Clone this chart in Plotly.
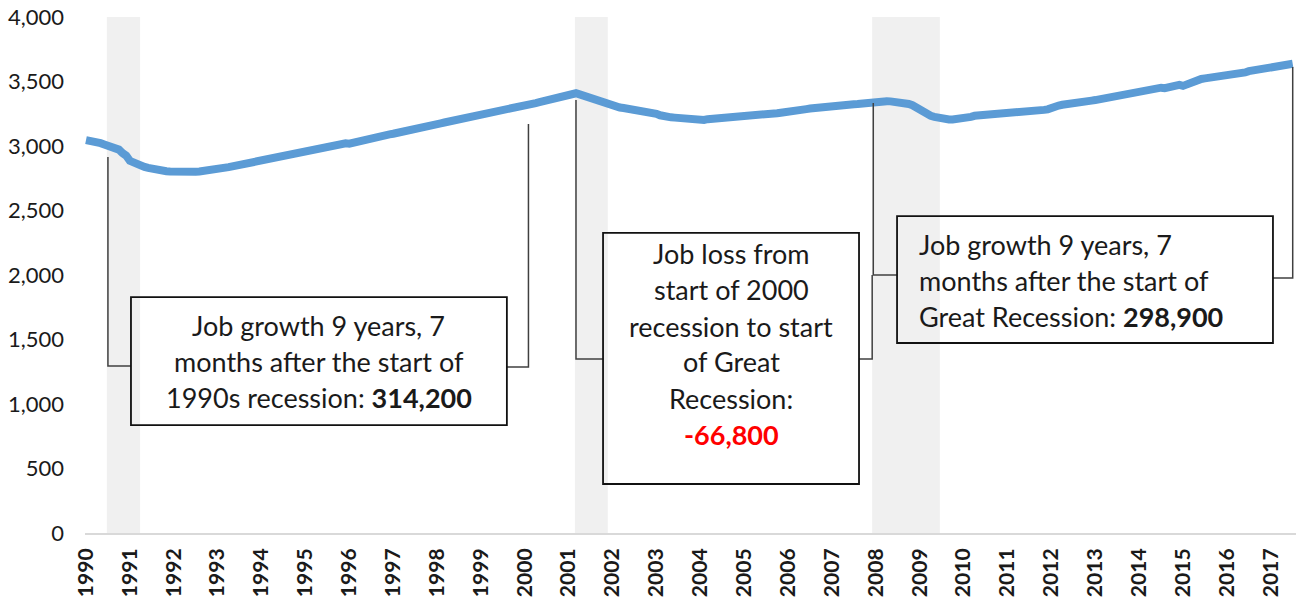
import plotly.graph_objects as go

# Monthly employment (thousands), Jan 1990 - Jul 2017
y1990 = [3045, 3043, 3038, 3030, 3022, 3012, 3005, 2995, 2985, 2972, 2945, 2925]
y1991 = [2885, 2870, 2858, 2848, 2838, 2830, 2822, 2817, 2812, 2808, 2805, 2803]
y1992 = [2801, 2799, 2798, 2798, 2799, 2800, 2801, 2803, 2806, 2808, 2810, 2813]
y1993 = [2818, 2822, 2820, 2836, 2842, 2848, 2852, 2856, 2860, 2866, 2870, 2876]
y1994 = [2880, 2885, 2892, 2900, 2908, 2915, 2922, 2930, 2938, 2946, 2952, 2958]
y1995 = [2962, 2966, 2972, 2976, 2982, 2988, 2992, 2998, 3004, 3010, 3015, 3021]
y1996 = [3018, 3026, 3034, 3042, 3050, 3056, 3062, 3068, 3074, 3080, 3086, 3090]
y1997 = [3095, 3100, 3106, 3110, 3115, 3120, 3126, 3134, 3142, 3150, 3158, 3165]
y1998 = [3170, 3176, 3182, 3188, 3192, 3196, 3200, 3204, 3208, 3212, 3218, 3224]
y1999 = [3228, 3234, 3240, 3246, 3254, 3262, 3270, 3276, 3284, 3290, 3296, 3302]
y2000 = [3312, 3319, 3326, 3333, 3340, 3346, 3352, 3358, 3364, 3372, 3380, 3390]
y2001 = [3398, 3406, 3409, 3400, 3390, 3380, 3370, 3360, 3350, 3338, 3326, 3316]
y2002 = [3308, 3302, 3298, 3294, 3290, 3286, 3283, 3280, 3276, 3272, 3266, 3260]
y2003 = [3250, 3238, 3228, 3224, 3222, 3220, 3218, 3216, 3212, 3208, 3204, 3200]
y2004 = [3196, 3202, 3208, 3210, 3212, 3214, 3216, 3218, 3219, 3220, 3222, 3224]
y2005 = [3226, 3228, 3226, 3230, 3234, 3238, 3242, 3246, 3250, 3254, 3258, 3264]
y2006 = [3266, 3270, 3274, 3278, 3282, 3286, 3290, 3294, 3296, 3300, 3302, 3305]
y2007 = [3306, 3308, 3312, 3314, 3318, 3320, 3324, 3326, 3330, 3334, 3338, 3342]
y2008 = [3344, 3346, 3347, 3347, 3346, 3344, 3342, 3338, 3334, 3326, 3316, 3298]
y2009 = [3270, 3256, 3244, 3234, 3226, 3218, 3212, 3208, 3206, 3206, 3207, 3210]
y2010 = [3214, 3218, 3226, 3234, 3236, 3232, 3236, 3238, 3240, 3242, 3244, 3246]
y2011 = [3248, 3250, 3252, 3254, 3258, 3262, 3258, 3268, 3272, 3276, 3280, 3284]
y2012 = [3298, 3306, 3314, 3320, 3326, 3320, 3330, 3334, 3338, 3342, 3346, 3352]
y2013 = [3356, 3362, 3368, 3372, 3378, 3382, 3386, 3390, 3394, 3398, 3404, 3410]
y2014 = [3416, 3422, 3428, 3434, 3440, 3446, 3452, 3448, 3456, 3464, 3470, 3474]
y2015 = [3466, 3480, 3494, 3506, 3514, 3520, 3524, 3528, 3530, 3534, 3538, 3542]
y2016 = [3546, 3550, 3556, 3552, 3560, 3570, 3580, 3584, 3588, 3592, 3598, 3604]
y2017 = [3610, 3614, 3618, 3622, 3626, 3630, 3638]

years = list(range(1990, 2018))
employment = (y1990 + y1991 + y1992 + y1993 + y1994 + y1995 + y1996 + y1997
              + y1998 + y1999 + y2000 + y2001 + y2002 + y2003 + y2004 + y2005
              + y2006 + y2007 + y2008 + y2009 + y2010 + y2011 + y2012 + y2013
              + y2014 + y2015 + y2016 + y2017)
months = list(range(len(employment)))  # month index from Jan 1990

# recession bands, in month index (Jul 1990-Mar 1991, Mar-Nov 2001, Dec 2007-Jun 2009)
recessions = [(5.7, 14.8), (133.7, 142.7), (215.0, 233.5)]

FONT = "Lato, 'Open Sans', sans-serif"
DARK = "#1a1a1a"
CONN = "#404040"

fig = go.Figure()

fig.add_trace(go.Scatter(
    x=months, y=employment,
    mode="lines",
    line=dict(color="#5B9BD5", width=8),
    hoverinfo="skip",
    showlegend=False,
))

for x0, x1 in recessions:
    fig.add_vrect(x0=x0, x1=x1, fillcolor="#F0F0F0", line_width=0, layer="below")


def path(*pts):
    return "M " + " L ".join(f"{x},{y}" for x, y in pts)


connectors = [
    path((6, 2915), (6, 1295), (12.3, 1295)),
    path((115.1, 1287), (121, 1287), (121, 3171)),
    path((134, 3357), (134, 1349), (141.4, 1349)),
    path((211.4, 1349), (215, 1349), (215, 2000)),
    path((215.3, 3333), (215.3, 2000), (221.8, 2000)),
    path((324.6, 1977), (330, 1977), (330, 3612)),
]
for p in connectors:
    fig.add_shape(type="path", path=p, xref="x", yref="y",
                  line=dict(color=CONN, width=1.5))

boxes = [(12.3, 837, 115.1, 1829), (141.4, 380, 211.4, 2326), (221.8, 1473, 324.6, 2457)]
for x0, y0, x1, y1 in boxes:
    fig.add_shape(type="rect", x0=x0, y0=y0, x1=x1, y1=y1, xref="x", yref="y",
                  line=dict(color="#111111", width=1.8), fillcolor="rgba(0,0,0,0)")

text_lines = [
    # box 1, centred
    (63.7, 1612, "Job growth 9 years, 7", "center"),
    (63.7, 1333, "months after the start of", "center"),
    (63.7, 1054, "1990s recession: <b>314,200</b>", "center"),
    # box 2, centred
    (176.4, 2163, "Job loss from", "center"),
    (176.4, 1884, "start of 2000", "center"),
    (176.4, 1597, "recession to start", "center"),
    (176.4, 1326, "of Great", "center"),
    (176.4, 1039, "Recession:", "center"),
    (176.4, 767, "<b><span style='color:#FF0000'>-66,800</span></b>", "center"),
    # box 3, left aligned
    (227.2, 2240, "Job growth 9 years, 7", "left"),
    (227.2, 1961, "months after the start of", "left"),
    (227.2, 1682, "Great Recession: <b>298,900</b>", "left"),
]
for x, y, t, anchor in text_lines:
    fig.add_annotation(x=x, y=y, xref="x", yref="y", text=t, showarrow=False,
                       xanchor=anchor, yanchor="middle",
                       font=dict(family=FONT, size=27, color=DARK))

fig.update_layout(
    width=1299, height=600,
    margin=dict(l=85, r=3, t=17, b=67),
    plot_bgcolor="white",
    paper_bgcolor="white",
    font=dict(family=FONT, color=DARK),
    showlegend=False,
    xaxis=dict(
        range=[-0.27, 330.9],
        tickvals=[12 * (y - 1990) for y in years],
        ticktext=[str(y) for y in years],
        tickangle=-90,
        tickfont=dict(family=FONT, size=21, weight="bold", color=DARK),
        showgrid=False, zeroline=False,
        showline=True, linecolor="#D9D9D9", linewidth=2,
        ticks="", ticklabelstandoff=5, automargin=False,
    ),
    yaxis=dict(
        range=[0, 4000],
        tickvals=[0, 500, 1000, 1500, 2000, 2500, 3000, 3500, 4000],
        tickformat=",",
        tickfont=dict(family=FONT, size=22, color=DARK),
        showgrid=False, zeroline=False, showline=False,
        ticks="", ticklabelstandoff=20, automargin=False,
    ),
)

fig.write_html("out.html", config={"displayModeBar": False},
               post_script="document.body.style.margin='0px';")
